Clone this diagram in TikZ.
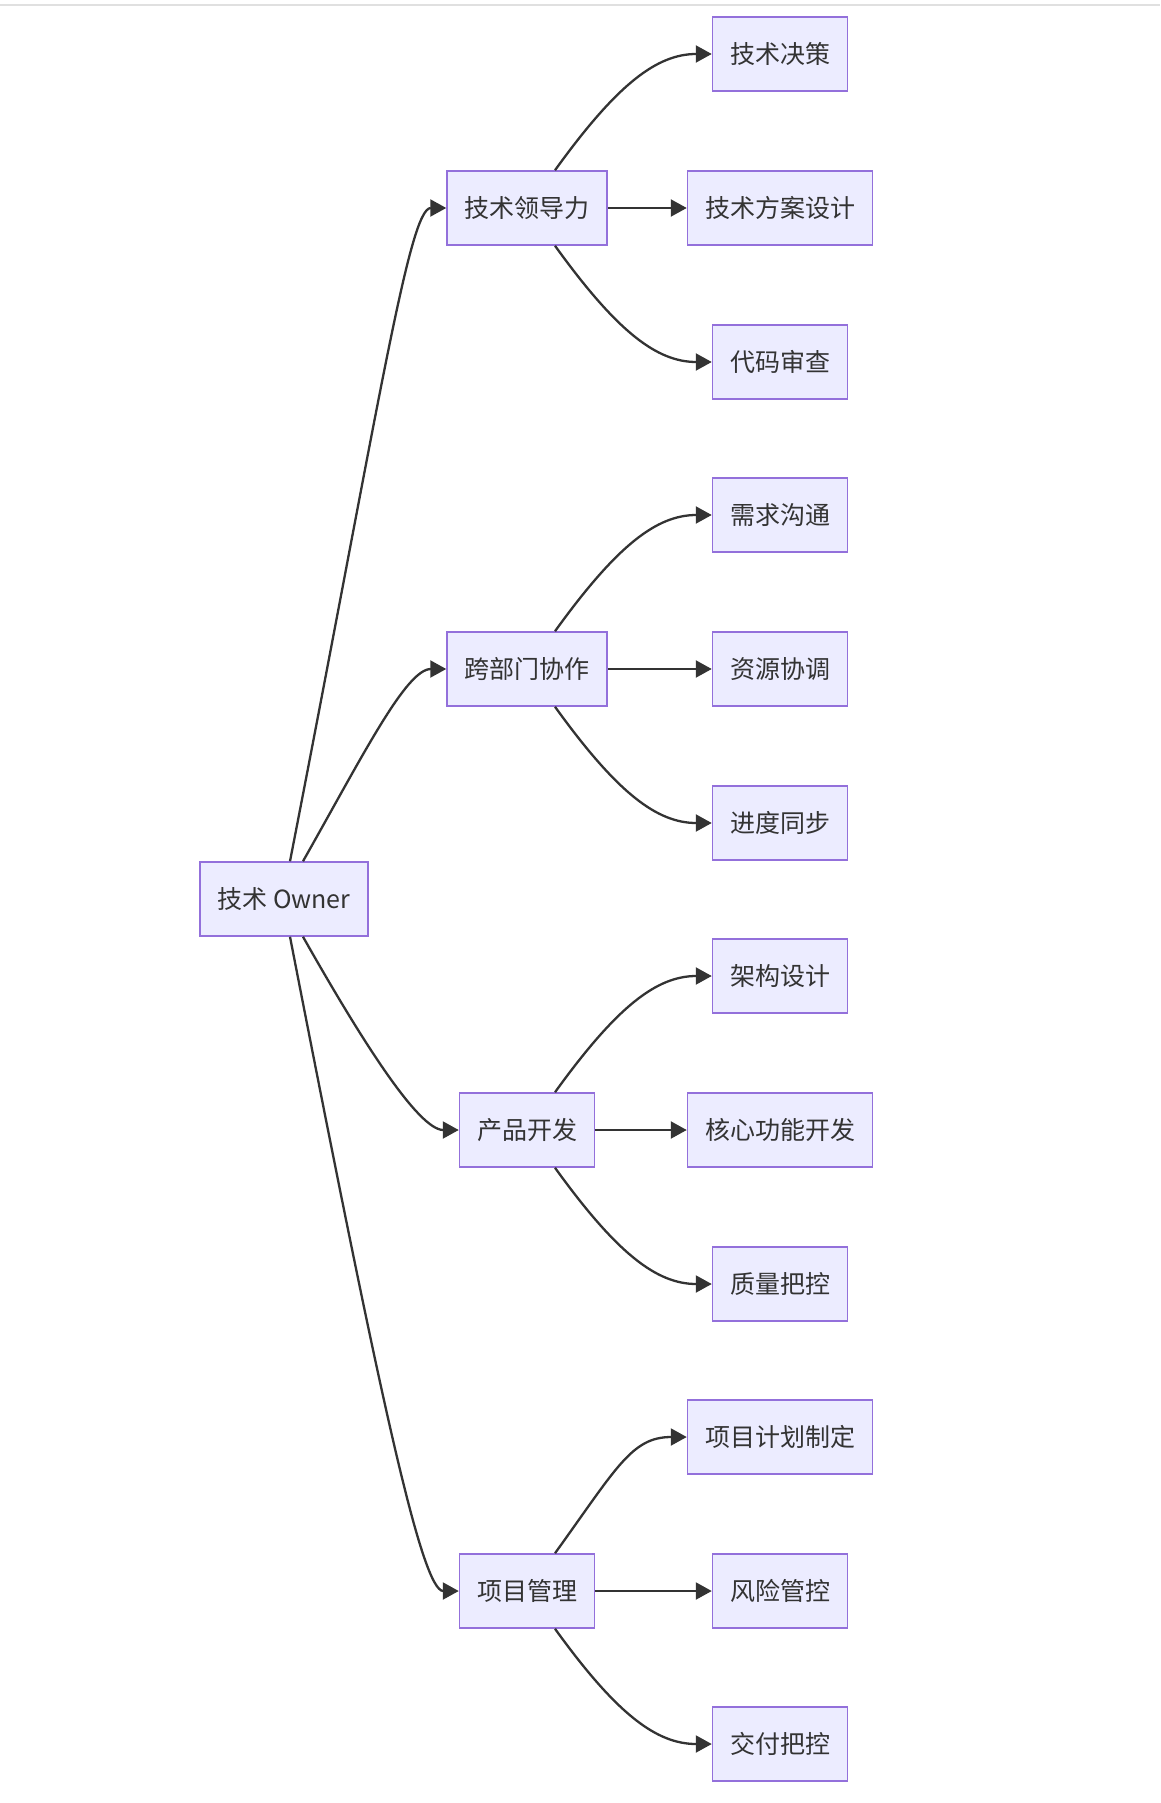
\documentclass[tikz,border=0pt]{standalone}
\usepackage{fontspec}
\setmainfont{Noto Sans CJK SC}
\usetikzlibrary{arrows.meta}
\definecolor{boxfill}{HTML}{ECECFF}
\definecolor{boxline}{HTML}{9370DB}
\definecolor{ink}{HTML}{333333}

\begin{document}
\begin{tikzpicture}[x=1pt,y=-1pt,
    box/.style={draw=boxline,fill=boxfill,line width=1.5pt,text=ink,
      font=\fontsize{25pt}{30pt}\selectfont,minimum height=74pt,inner xsep=17.5pt},
    link/.style={draw=ink,line width=2.3pt,-{Triangle[length=16pt,width=17pt]}}]
  \useasboundingbox (0,0) rectangle (1160,1803);
  \draw[line width=1.5pt,black!12] (0,5) -- (1160,5);
  % root and branches
  \node[box,minimum width=166pt] (owner) at (284,899) {技术 Owner};
  \node[box] (lead) at (527,208) {技术领导力};
  \node[box] (cross) at (527,669) {跨部门协作};
  \node[box] (prod) at (527,1130) {产品开发};
  \node[box] (proj) at (527,1591) {项目管理};
  % leaves
  \node[box] (dec) at (780,54) {技术决策};
  \node[box] (design) at (780,208) {技术方案设计};
  \node[box] (review) at (780,362) {代码审查};
  \node[box] (req) at (780,515) {需求沟通};
  \node[box] (res) at (780,669) {资源协调};
  \node[box] (sync) at (780,823) {进度同步};
  \node[box] (arch) at (780,976) {架构设计};
  \node[box] (core) at (780,1130) {核心功能开发};
  \node[box] (qa) at (780,1284) {质量把控};
  \node[box] (plan) at (780,1437) {项目计划制定};
  \node[box] (risk) at (780,1591) {风险管控};
  \node[box] (deliv) at (780,1744) {交付把控};
  % root edges
  \draw[link] ([xshift=6pt]owner.north) .. controls +(90,-462) and +(-37,0) .. (lead.west);
  \draw[link] ([xshift=19pt]owner.north) .. controls +(60,-106) and +(-40,0) .. (cross.west);
  \draw[link] ([xshift=19pt]owner.south) .. controls +(60,106) and +(-40,0) .. (prod.west);
  \draw[link] ([xshift=6pt]owner.south) .. controls +(90,462) and +(-37,0) .. (proj.west);
  % branch edges
  \foreach \p/\a/\b/\c in {lead/dec/design/review,cross/req/res/sync,
      prod/arch/core/qa,proj/plan/risk/deliv}{
    \draw[link] ([xshift=28pt]\p.north) .. controls +(62,-86) and +(-55,0) .. (\a.west);
    \draw[link] (\p.east) -- (\b.west);
    \draw[link] ([xshift=28pt]\p.south) .. controls +(62,86) and +(-55,0) .. (\c.west);
  }
\end{tikzpicture}
\end{document}
